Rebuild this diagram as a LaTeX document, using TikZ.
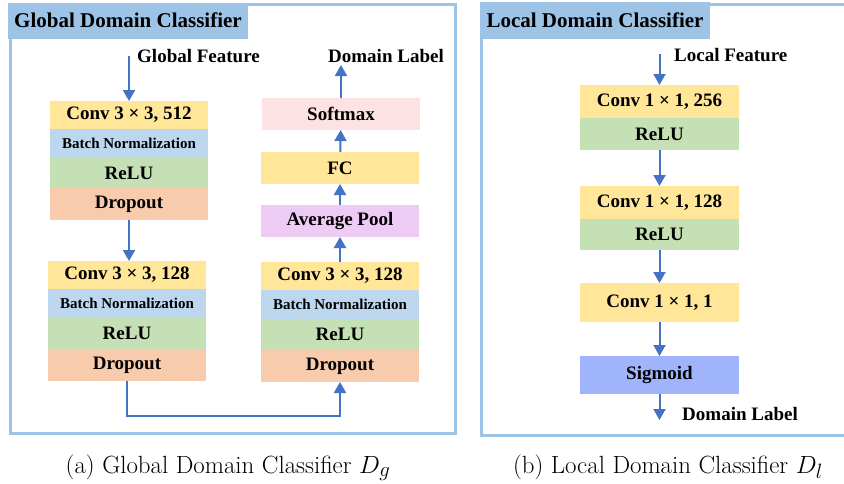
\documentclass[tikz,border=0pt]{standalone}
\usepackage{fontspec}
\newfontfamily\boxfont{Liberation Serif}
\usetikzlibrary{arrows.meta, positioning}

\definecolor{frameblue}{HTML}{9DC3E6}
\definecolor{convyellow}{HTML}{FFE699}
\definecolor{bnblue}{HTML}{BDD7EE}
\definecolor{relugreen}{HTML}{C5E0B4}
\definecolor{droporange}{HTML}{F8CBAD}
\definecolor{poolviolet}{HTML}{EECBF5}
\definecolor{softpink}{HTML}{FDE2E4}
\definecolor{sigblue}{HTML}{9FB4FB}
\definecolor{arrowblue}{HTML}{4472C4}

\begin{document}
\begin{tikzpicture}[
    x=1pt, y=-1pt,
    font=\boxfont\bfseries\fontsize{19}{22}\selectfont,
    blk/.style={minimum width=158pt, inner sep=0pt, outer sep=0pt, anchor=north},
    conv/.style={blk, fill=convyellow, minimum height=#1},
    conv/.default=28pt,
    bn/.style={blk, fill=bnblue, minimum height=29pt, font=\boxfont\bfseries\fontsize{15}{18}\selectfont},
    relu/.style={blk, fill=relugreen, minimum height=#1},
    relu/.default=31pt,
    drop/.style={blk, fill=droporange, minimum height=32pt},
    head/.style={blk, minimum height=32pt},
    frame/.style={draw=frameblue, line width=3pt},
    titlebox/.style={fill=frameblue, inner sep=0pt, font=\boxfont\bfseries\fontsize{21}{24}\selectfont},
    txt/.style={inner sep=0pt},
    flow/.style={-{Triangle[length=11pt, width=12pt]}, line width=2pt, draw=arrowblue},
    caption/.style={font=\normalfont\fontsize{24.88}{28}\selectfont, anchor=base}
]
    \useasboundingbox (0,0) rectangle (844,483);

    % Frames
    \draw[frame] (10,4) rectangle (455,433);
    \node[titlebox, minimum width=240pt, minimum height=36pt] (gtitle) at (128,20.5) {Global Domain Classifier};
    \draw[frame] (850,4) -- (481,4) -- (481,435) -- (850,435);
    \node[titlebox, minimum width=230pt, minimum height=37pt] (ltitle) at (595,20.5) {Local Domain Classifier};

    % Global classifier: first block
    \node[conv] (gconv1) at (129,101) {Conv 3 × 3, 512};
    \node[bn, below=0pt of gconv1] (gbn1) {Batch Normalization};
    \node[relu=30pt, below=0pt of gbn1] (grelu1) {ReLU};
    \node[drop, below=0pt of grelu1] (gdrop1) {Dropout};

    % Global classifier: second block
    \node[conv] (gconv2) at (127,261) {Conv 3 × 3, 128};
    \node[bn, below=0pt of gconv2] (gbn2) {Batch Normalization};
    \node[relu, below=0pt of gbn2] (grelu2) {ReLU};
    \node[drop, below=0pt of grelu2] (gdrop2) {Dropout};

    % Global classifier: third block
    \node[conv] (gconv3) at (340,262) {Conv 3 × 3, 128};
    \node[bn, below=0pt of gconv3] (gbn3) {Batch Normalization};
    \node[relu, below=0pt of gbn3] (grelu3) {ReLU};
    \node[drop, below=0pt of grelu3] (gdrop3) {Dropout};

    % Global classifier: head
    \node[head, fill=poolviolet] (gpool) at (340,205) {Average Pool};
    \node[head, fill=convyellow] (gfc) at (340,152) {FC};
    \node[head, fill=softpink] (gsoft) at (341,98) {Softmax};

    % Global labels
    \coordinate (gin) at (129,56);
    \coordinate (gout) at (341,65);
    \node[txt, anchor=west] (gfeat) at (137,56) {Global Feature};
    \node[txt] (glabel) at (386,56) {Domain Label};

    % Global connections
    \draw[flow] (gin) -- (gconv1);
    \draw[flow] (gdrop1.south) -- (gdrop1.south |- gconv2.north);
    \draw[flow] (gdrop2.south) -- ++(0,35) -| (gdrop3.south);
    \draw[flow] (gconv3) -- (gpool);
    \draw[flow] (gpool) -- (gfc);
    \draw[flow] (gfc) -- (gsoft);
    \draw[flow] (gsoft) -- (gout);

    % Local classifier
    \node[conv=33pt, minimum width=159pt] (lconv1) at (659.5,85) {Conv 1 × 1, 256};
    \node[relu=32pt, minimum width=159pt, below=0pt of lconv1] (lrelu1) {ReLU};
    \node[conv=33pt, minimum width=159pt] (lconv2) at (659.5,186) {Conv 1 × 1, 128};
    \node[relu=31pt, minimum width=159pt, below=0pt of lconv2] (lrelu2) {ReLU};
    \node[conv=39pt, minimum width=159pt] (lconv3) at (659.5,283) {Conv 1 × 1, 1};
    \node[blk, fill=sigblue, minimum height=38pt, minimum width=159pt] (lsig) at (659.5,356) {Sigmoid};

    % Local labels
    \coordinate (lin) at (659.5,54);
    \coordinate (lout) at (659.5,420);
    \node[txt, anchor=west] (lfeat) at (674,55) {Local Feature};
    \node[txt, anchor=west] (llabel) at (682,414) {Domain Label};

    % Local connections
    \draw[flow] (lin) -- (lconv1);
    \draw[flow] (lrelu1) -- (lconv2);
    \draw[flow] (lrelu2) -- (lconv3);
    \draw[flow] (lconv3) -- (lsig);
    \draw[flow] (lsig) -- (lout);

    % Captions
    \node[caption] (capa) at (228,473) {(a) Global Domain Classifier $D_g$};
    \node[caption] (capb) at (668,473) {(b) Local Domain Classifier $D_l$};

\end{tikzpicture}
\end{document}
